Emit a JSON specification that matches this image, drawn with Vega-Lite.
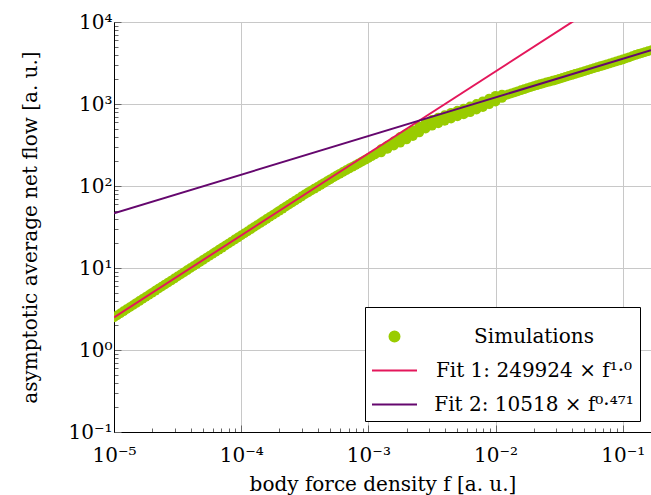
{
  "$schema": "https://vega.github.io/schema/vega-lite/v6.json",
  "width": 537,
  "height": 410,
  "autosize": "none",
  "padding": {"left": 114, "top": 22, "right": 0, "bottom": 63},
  "background": "white",
  "datasets": {
    "sim": [
      {"f": 1e-5, "y": 2.50}, {"f": 1.122e-5, "y": 2.80}, {"f": 1.259e-5, "y": 3.15}, {"f": 1.413e-5, "y": 3.53}, {"f": 1.585e-5, "y": 3.96},
      {"f": 1.778e-5, "y": 4.44}, {"f": 1.995e-5, "y": 4.99}, {"f": 2.239e-5, "y": 5.60}, {"f": 2.512e-5, "y": 6.28}, {"f": 2.818e-5, "y": 7.04},
      {"f": 3.162e-5, "y": 7.90}, {"f": 3.548e-5, "y": 8.87}, {"f": 3.981e-5, "y": 9.95}, {"f": 4.467e-5, "y": 11.16}, {"f": 5.012e-5, "y": 12.53},
      {"f": 5.623e-5, "y": 14.05}, {"f": 6.310e-5, "y": 15.77}, {"f": 7.079e-5, "y": 17.69}, {"f": 7.943e-5, "y": 19.85}, {"f": 8.913e-5, "y": 22.28},
      {"f": 1e-4, "y": 25.0}, {"f": 1.122e-4, "y": 28.0}, {"f": 1.259e-4, "y": 31.5}, {"f": 1.413e-4, "y": 35.3}, {"f": 1.585e-4, "y": 39.6},
      {"f": 1.778e-4, "y": 44.4}, {"f": 1.995e-4, "y": 49.9}, {"f": 2.239e-4, "y": 56.0}, {"f": 2.512e-4, "y": 62.8}, {"f": 2.818e-4, "y": 70.4},
      {"f": 3.162e-4, "y": 79.0}, {"f": 3.548e-4, "y": 87.9}, {"f": 3.981e-4, "y": 97.7}, {"f": 4.467e-4, "y": 108.6}, {"f": 5.012e-4, "y": 120.8},
      {"f": 5.623e-4, "y": 134.2}, {"f": 6.310e-4, "y": 148.2}, {"f": 7.079e-4, "y": 163.6}, {"f": 7.943e-4, "y": 180.2}, {"f": 8.913e-4, "y": 198.6},
      {"f": 1e-3, "y": 219.2}, {"f": 1.122e-3, "y": 242.6}, {"f": 1.259e-3, "y": 268.4}, {"f": 1.413e-3, "y": 296.9}, {"f": 1.585e-3, "y": 329.5},
      {"f": 1.778e-3, "y": 365.4}, {"f": 1.995e-3, "y": 400.6}, {"f": 2.239e-3, "y": 441.3}, {"f": 2.512e-3, "y": 487.3}, {"f": 2.818e-3, "y": 543.3},
      {"f": 3.162e-3, "y": 588.8}, {"f": 3.548e-3, "y": 631.0}, {"f": 3.981e-3, "y": 676.1}, {"f": 4.467e-3, "y": 721.1}, {"f": 5.012e-3, "y": 765.6},
      {"f": 5.623e-3, "y": 809.1}, {"f": 6.310e-3, "y": 861.0}, {"f": 7.079e-3, "y": 924.7}, {"f": 7.943e-3, "y": 995.4}, {"f": 8.913e-3, "y": 1076.4},
      {"f": 0.01, "y": 1161.4}, {"f": 0.01122, "y": 1241.7}, {"f": 0.01259, "y": 1312.2}, {"f": 0.01413, "y": 1386.8}, {"f": 0.01585, "y": 1472.3},
      {"f": 0.01778, "y": 1559.6}, {"f": 0.01995, "y": 1652.1}, {"f": 0.02239, "y": 1741.8}, {"f": 0.02512, "y": 1836.5}, {"f": 0.02818, "y": 1922.1},
      {"f": 0.03162, "y": 2029.2}, {"f": 0.03548, "y": 2142.4}, {"f": 0.03981, "y": 2262.1}, {"f": 0.04467, "y": 2388}, {"f": 0.05012, "y": 2521},
      {"f": 0.05623, "y": 2662}, {"f": 0.06310, "y": 2810}, {"f": 0.07079, "y": 2967}, {"f": 0.07943, "y": 3132}, {"f": 0.08913, "y": 3307},
      {"f": 0.1, "y": 3491}, {"f": 0.1122, "y": 3711}, {"f": 0.1259, "y": 3963}, {"f": 0.1413, "y": 4184}, {"f": 0.1585, "y": 4417},
      {"f": 1.059e-5, "y": 2.647}, {"f": 1.189e-5, "y": 2.971}, {"f": 1.334e-5, "y": 3.334}, {"f": 1.496e-5, "y": 3.739}, {"f": 1.679e-5, "y": 4.196},
      {"f": 1.884e-5, "y": 4.708}, {"f": 2.113e-5, "y": 5.281}, {"f": 2.371e-5, "y": 5.925}, {"f": 2.661e-5, "y": 6.650}, {"f": 2.985e-5, "y": 7.460},
      {"f": 3.350e-5, "y": 8.372}, {"f": 3.758e-5, "y": 9.392}, {"f": 4.217e-5, "y": 10.54}, {"f": 4.732e-5, "y": 11.83}, {"f": 5.309e-5, "y": 13.27},
      {"f": 5.957e-5, "y": 14.89}, {"f": 6.683e-5, "y": 16.70}, {"f": 7.499e-5, "y": 18.74}, {"f": 8.414e-5, "y": 21.03}, {"f": 9.441e-5, "y": 23.59},
      {"f": 1.059e-4, "y": 26.47}, {"f": 1.189e-4, "y": 29.71}, {"f": 1.334e-4, "y": 33.34}, {"f": 1.496e-4, "y": 37.39}, {"f": 1.679e-4, "y": 41.96},
      {"f": 1.884e-4, "y": 47.08}, {"f": 2.113e-4, "y": 52.81}, {"f": 2.371e-4, "y": 59.25}, {"f": 2.661e-4, "y": 66.50}, {"f": 2.985e-4, "y": 74.60},
      {"f": 3.350e-4, "y": 83.33}, {"f": 3.758e-4, "y": 92.67}, {"f": 4.217e-4, "y": 103.0}, {"f": 4.732e-4, "y": 114.5}, {"f": 5.309e-4, "y": 127.3},
      {"f": 5.957e-4, "y": 141.0}, {"f": 6.683e-4, "y": 155.7}, {"f": 7.499e-4, "y": 171.7}, {"f": 8.414e-4, "y": 189.2}, {"f": 9.441e-4, "y": 208.6},
      {"f": 1.059e-3, "y": 230.6}, {"f": 1.189e-3, "y": 255.2}, {"f": 1.334e-3, "y": 282.3}, {"f": 1.496e-3, "y": 312.8}, {"f": 1.679e-3, "y": 347.0},
      {"f": 1.884e-3, "y": 382.6}, {"f": 2.113e-3, "y": 420.5}, {"f": 2.371e-3, "y": 463.7}, {"f": 2.661e-3, "y": 514.5}, {"f": 2.985e-3, "y": 565.6},
      {"f": 3.350e-3, "y": 609.5}, {"f": 3.758e-3, "y": 653.2}, {"f": 4.217e-3, "y": 698.2}, {"f": 4.732e-3, "y": 743.0}, {"f": 5.309e-3, "y": 787.1},
      {"f": 5.957e-3, "y": 834.6}, {"f": 6.683e-3, "y": 892.3}, {"f": 7.499e-3, "y": 959.4}, {"f": 8.414e-3, "y": 1035.1}, {"f": 9.441e-3, "y": 1118.1},
      {"f": 0.01059, "y": 1200.9}, {"f": 0.01189, "y": 1276.5}, {"f": 0.01334, "y": 1349.0}, {"f": 0.01496, "y": 1428.9}, {"f": 0.01679, "y": 1515.3},
      {"f": 0.01884, "y": 1605.2}, {"f": 0.02113, "y": 1696.3}, {"f": 0.02371, "y": 1788.5}, {"f": 0.02661, "y": 1878.8}, {"f": 0.02985, "y": 1974.9},
      {"f": 0.03350, "y": 2085.0}, {"f": 0.03758, "y": 2201.4}, {"f": 0.04217, "y": 2324.2}, {"f": 0.04732, "y": 2453.6}, {"f": 0.05309, "y": 2590.5},
      {"f": 0.05957, "y": 2735.0}, {"f": 0.06683, "y": 2887.5}, {"f": 0.07499, "y": 3048.4}, {"f": 0.08414, "y": 3218.3}, {"f": 0.09441, "y": 3397.7},
      {"f": 0.1059, "y": 3599.3}, {"f": 0.1189, "y": 3835.0}, {"f": 0.1334, "y": 4072.0}, {"f": 0.1496, "y": 4298.9}, {"f": 0.1679, "y": 4530},
      {"f": 1.259e-3, "y": 281.0}, {"f": 1.259e-3, "y": 256.3},
      {"f": 1.413e-3, "y": 310.9}, {"f": 1.413e-3, "y": 283.5},
      {"f": 1.585e-3, "y": 349.0}, {"f": 1.585e-3, "y": 311.1},
      {"f": 1.778e-3, "y": 396.1}, {"f": 1.778e-3, "y": 337.1},
      {"f": 1.995e-3, "y": 434.2}, {"f": 1.995e-3, "y": 369.6},
      {"f": 2.239e-3, "y": 478.3}, {"f": 2.239e-3, "y": 407.1},
      {"f": 2.512e-3, "y": 528.2}, {"f": 2.512e-3, "y": 449.6},
      {"f": 2.818e-3, "y": 588.9}, {"f": 2.818e-3, "y": 501.2},
      {"f": 3.162e-3, "y": 638.2}, {"f": 3.162e-3, "y": 543.2},
      {"f": 3.548e-3, "y": 683.9}, {"f": 3.548e-3, "y": 582.2},
      {"f": 3.981e-3, "y": 732.8}, {"f": 3.981e-3, "y": 623.8},
      {"f": 4.467e-3, "y": 781.6}, {"f": 4.467e-3, "y": 665.3},
      {"f": 5.012e-3, "y": 829.8}, {"f": 5.012e-3, "y": 706.3},
      {"f": 5.623e-3, "y": 877.0}, {"f": 5.623e-3, "y": 746.5},
      {"f": 6.310e-3, "y": 933.2}, {"f": 6.310e-3, "y": 794.4},
      {"f": 7.079e-3, "y": 1002.3}, {"f": 7.079e-3, "y": 853.1},
      {"f": 7.943e-3, "y": 1078.9}, {"f": 7.943e-3, "y": 918.4},
      {"f": 8.913e-3, "y": 1166.7}, {"f": 8.913e-3, "y": 993.1},
      {"f": 0.01, "y": 1258.9}, {"f": 0.01, "y": 1071.5},
      {"f": 0.01122, "y": 1300.2}, {"f": 0.01122, "y": 1185.8}
    ],
    "fits": [
      {"f": 1e-5, "y": 2.49924, "series": "Fit 1: 249924 × f¹·⁰"},
      {"f": 0.06, "y": 14995.4, "series": "Fit 1: 249924 × f¹·⁰"},
      {"f": 1e-5, "y": 46.44, "series": "Fit 2: 10518 × f⁰·⁴⁷¹"},
      {"f": 0.1667, "y": 4525, "series": "Fit 2: 10518 × f⁰·⁴⁷¹"}
    ]
  },
  "config": {
    "font": "DejaVu Serif",
    "view": {"stroke": "black", "strokeWidth": 1},
    "axis": {
      "domainColor": "black",
      "tickColor": "#666666",
      "labelFont": "DejaVu Serif",
      "labelFontSize": 20,
      "labelColor": "black",
      "titleFont": "DejaVu Serif",
      "titleFontSize": 20,
      "titleFontWeight": "normal",
      "titleColor": "black",
      "gridColor": "#c8c8c8",
      "gridWidth": 1
    },
    "legend": {
      "orient": "bottom-right",
      "offset": 11,
      "fillColor": "white",
      "strokeColor": "black",
      "padding": 6,
      "labelFont": "DejaVu Serif",
      "labelFontSize": 20,
      "labelColor": "black",
      "labelAlign": "center",
      "labelBaseline": "middle",
      "labelOffset": 116,
      "labelLimit": 400,
      "symbolSize": 2025,
      "symbolStrokeWidth": 2
    }
  },
  "layer": [
    {
      "data": {"name": "sim"},
      "transform": [{"calculate": "'Simulations'", "as": "series"}],
      "mark": {"type": "point", "filled": true, "shape": "circle", "size": 95, "opacity": 1, "clip": true},
      "encoding": {
        "x": {
          "field": "f", "type": "quantitative",
          "scale": {"type": "log", "domain": [1e-5, 0.1667], "nice": false},
          "axis": {
            "title": "body force density f [a. u.]",
            "values": [1e-5, 2e-5, 3e-5, 4e-5, 5e-5, 6e-5, 7e-5, 8e-5, 9e-5, 1e-4, 2e-4, 3e-4, 4e-4, 5e-4, 6e-4, 7e-4, 8e-4, 9e-4, 1e-3, 2e-3, 3e-3, 4e-3, 5e-3, 6e-3, 7e-3, 8e-3, 9e-3, 0.01, 0.02, 0.03, 0.04, 0.05, 0.06, 0.07, 0.08, 0.09, 0.1],
            "labelExpr": "abs(log(datum.value)/LN10 - round(log(datum.value)/LN10)) < 0.001 ? '10' + (round(log(datum.value)/LN10) < 0 ? '⁻' : '') + ['⁰','¹','²','³','⁴','⁵','⁶','⁷','⁸','⁹'][abs(round(log(datum.value)/LN10))] : ''",
            "labelOverlap": false,
            "labelFlush": false,
            "grid": true,
            "gridOpacity": {"condition": {"test": "abs(log(datum.value)/LN10 - round(log(datum.value)/LN10)) < 0.001", "value": 1}, "value": 0},
            "tickSize": {"condition": {"test": "abs(log(datum.value)/LN10 - round(log(datum.value)/LN10)) < 0.001", "value": -7}, "value": -4},
            "labelPadding": 20,
            "titlePadding": 6
          }
        },
        "y": {
          "field": "y", "type": "quantitative",
          "scale": {"type": "log", "domain": [0.1, 10000], "nice": false},
          "axis": {
            "title": "asymptotic average net flow [a. u.]",
            "values": [0.1, 0.2, 0.3, 0.4, 0.5, 0.6, 0.7, 0.8, 0.9, 1, 2, 3, 4, 5, 6, 7, 8, 9, 10, 20, 30, 40, 50, 60, 70, 80, 90, 100, 200, 300, 400, 500, 600, 700, 800, 900, 1000, 2000, 3000, 4000, 5000, 6000, 7000, 8000, 9000, 10000],
            "labelExpr": "abs(log(datum.value)/LN10 - round(log(datum.value)/LN10)) < 0.001 ? '10' + (round(log(datum.value)/LN10) < 0 ? '⁻' : '') + ['⁰','¹','²','³','⁴','⁵','⁶','⁷','⁸','⁹'][abs(round(log(datum.value)/LN10))] : ''",
            "labelOverlap": false,
            "labelFlush": false,
            "grid": true,
            "gridOpacity": {"condition": {"test": "abs(log(datum.value)/LN10 - round(log(datum.value)/LN10)) < 0.001", "value": 1}, "value": 0},
            "tickSize": {"condition": {"test": "abs(log(datum.value)/LN10 - round(log(datum.value)/LN10)) < 0.001", "value": -7}, "value": -4},
            "labelPadding": 9,
            "titlePadding": 27
          }
        },
        "color": {
          "field": "series", "type": "nominal",
          "scale": {"domain": ["Simulations", "Fit 1: 249924 × f¹·⁰", "Fit 2: 10518 × f⁰·⁴⁷¹"], "range": ["#99cc00", "#e4175b", "#65076e"]},
          "legend": {
            "title": null,
            "rowPadding": -5,
            "encode": {
              "symbols": {
                "update": {
                  "shape": {"signal": "datum.value === 'Simulations' ? 'circle' : 'stroke'"},
                  "size": {"signal": "datum.value === 'Simulations' ? 100 : 2025"},
                  "fill": {"signal": "datum.value === 'Simulations' ? '#99cc00' : 'transparent'"},
                  "stroke": {"signal": "datum.value === 'Simulations' ? 'transparent' : (indexOf(datum.value, 'Fit 1') === 0 ? '#e4175b' : '#65076e')"},
                  "strokeWidth": {"value": 2},
                  "opacity": {"value": 1}
                }
              }
            }
          }
        }
      }
    },
    {
      "data": {"name": "fits"},
      "mark": {"type": "line", "strokeWidth": 2, "clip": true},
      "encoding": {
        "x": {"field": "f", "type": "quantitative"},
        "y": {"field": "y", "type": "quantitative"},
        "color": {
          "field": "series", "type": "nominal",
          "legend": {
            "title": null,
            "rowPadding": -5,
            "encode": {
              "symbols": {
                "update": {
                  "shape": {"signal": "datum.value === 'Simulations' ? 'circle' : 'stroke'"},
                  "size": {"signal": "datum.value === 'Simulations' ? 100 : 2025"},
                  "fill": {"signal": "datum.value === 'Simulations' ? '#99cc00' : 'transparent'"},
                  "stroke": {"signal": "datum.value === 'Simulations' ? 'transparent' : (indexOf(datum.value, 'Fit 1') === 0 ? '#e4175b' : '#65076e')"},
                  "strokeWidth": {"value": 2},
                  "opacity": {"value": 1}
                }
              }
            }
          }
        }
      }
    }
  ]
}
